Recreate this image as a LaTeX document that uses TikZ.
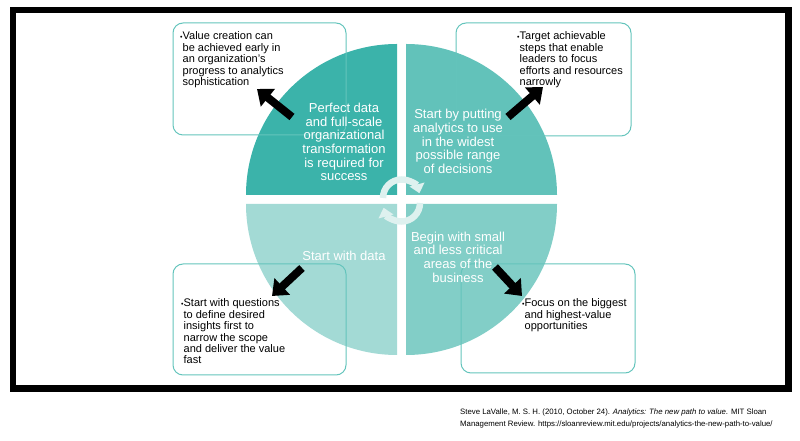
\documentclass[tikz,border=0pt]{standalone}
\usepackage{fontspec}
\setmainfont{Liberation Sans}
\usepackage{tikz}
\usetikzlibrary{positioning, arrows.meta, calc}
\definecolor{qTL}{RGB}{59,179,170}
\definecolor{qTR}{RGB}{98,194,186}
\definecolor{qBR}{RGB}{130,206,199}
\definecolor{qBL}{RGB}{163,218,213}
\definecolor{boxLine}{RGB}{100,196,188}
\definecolor{turnFill}{RGB}{222,241,239}
\newcommand{\bul}{{\fontsize{7}{7}\selectfont\raisebox{0.25ex}{•}}}

\begin{document}
\begin{tikzpicture}[
    x=1pt, y=1pt,
    notebox/.style={draw=boxLine, line width=1pt, rounded corners=10pt},
    note/.style={inner sep=0pt, font=\fontsize{11}{11.4}\selectfont, text=black},
    qtext/.style={inner sep=0pt, align=center, text=white, font=\fontsize{13}{13.6}\selectfont},
    blockarrow/.style={line width=8pt, -{Triangle[width=22pt,length=14pt]}, black},
    turn/.style={line width=6.5pt, turnFill, -{Triangle[width=15pt,length=9pt]}}
]
\useasboundingbox (0,0) rectangle (800,441);

% Frame
\draw[line width=6.5pt] (13,52.5) rectangle (788.5,431);

% Quadrants
\fill[qTL] (397,246) -- ++(-151,0) arc[start angle=180, end angle=90, radius=151] -- cycle;
\fill[qTR] (406,246) -- ++(151,0) arc[start angle=0, end angle=90, radius=151] -- cycle;
\fill[qBL] (397,237) -- ++(-151,0) arc[start angle=180, end angle=270, radius=151] -- cycle;
\fill[qBR] (406,237) -- ++(151,0) arc[start angle=0, end angle=-90, radius=151] -- cycle;

% Boxes
\draw[notebox] (173,306) rectangle (346,418);
\draw[notebox] (456,305) rectangle (631,418);
\draw[notebox] (173,66) rectangle (346,177);
\draw[notebox] (461,68) rectangle (635,177);

% Box texts
\node[note, anchor=base west] (valuenote) at (180,401) {\bul\begin{tabular}[t]{@{}l@{}}Value creation can\\be achieved early in\\an organization's\\progress to analytics\\sophistication\end{tabular}};
\node[note, anchor=base west] (targetnote) at (517,401) {\bul\begin{tabular}[t]{@{}l@{}}Target achievable\\steps that enable\\leaders to focus\\efforts and resources\\narrowly\end{tabular}};
\node[note, anchor=base west] (questionnote) at (181,134) {\bul\begin{tabular}[t]{@{}l@{}}Start with questions\\to define desired\\insights first to\\narrow the scope\\and deliver the value\\fast\end{tabular}};
\node[note, anchor=base west] (focusnote) at (522,134) {\bul\begin{tabular}[t]{@{}l@{}}Focus on the biggest\\and highest-value\\opportunities\end{tabular}};

% Quadrant texts
\node[qtext] (perfect) at (344,299) {Perfect data\\and full-scale\\organizational\\transformation\\is required for\\success};
\node[qtext] (widest) at (458,299.5) {Start by putting\\analytics to use\\in the widest\\possible range\\of decisions};
\node[qtext] (withdata) at (344,185) {Start with data};
\node[qtext] (small) at (458,184) {Begin with small\\and less critical\\areas of the\\business};

% Arrows
\coordinate (tlFrom) at (292,324);
\coordinate (tlTo) at (257,352);
\coordinate (trFrom) at (508,324);
\coordinate (trTo) at (543,354);
\coordinate (blFrom) at (302,173);
\coordinate (blTo) at (272,145);
\coordinate (brFrom) at (495,174);
\coordinate (brTo) at (522,145);
\draw[blockarrow] (tlFrom) -- (tlTo);
\draw[blockarrow] (trFrom) -- (trTo);
\draw[blockarrow] (blFrom) -- (blTo);
\draw[blockarrow] (brFrom) -- (brTo);

% Cycle
\coordinate (turnTop) at (383,243);
\coordinate (turnBottom) at (420,238);
\draw[turn] (turnTop) arc[start angle=180, end angle=15, radius=18.5];
\draw[turn] (turnBottom) arc[start angle=0, end angle=-165, radius=18.5];

% Source
\node[anchor=base west, inner sep=0pt, align=left, font=\fontsize{7.8}{12}\selectfont] (source) at (460,14) {Steve LaValle, M. S. H. (2010, October 24). \textit{Analytics: The new path to value}. MIT Sloan\\Management Review. https://sloanreview.mit.edu/projects/analytics-the-new-path-to-value/};
\end{tikzpicture}
\end{document}
